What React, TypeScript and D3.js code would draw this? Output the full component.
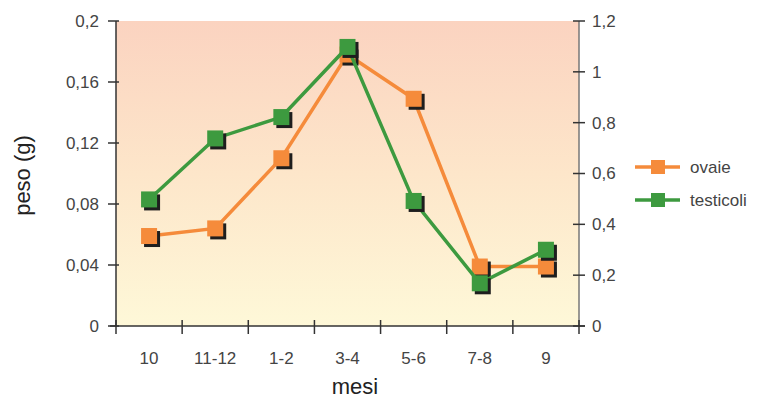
import React from "react";
import * as d3 from "d3";

const categories = ["10", "11-12", "1-2", "3-4", "5-6", "7-8", "9"];
const ovaie = [0.059, 0.064, 0.11, 0.178, 0.149, 0.039, 0.039];
const testicoli = [0.083, 0.123, 0.137, 0.183, 0.082, 0.028, 0.05];
const leftTicks = [0, 0.04, 0.08, 0.12, 0.16, 0.2];
const rightTicks = [0, 0.2, 0.4, 0.6, 0.8, 1, 1.2];
const seriesNames = ["ovaie", "testicoli"];
const seriesColors = ["#F58B3B", "#3D9A3F"];

const W = 760;
const H = 401;
const m = { left: 116, right: 579, top: 21, bottom: 326 };
const fmt = (v: number) => String(v).replace(".", ",");
const FONT = "'Liberation Sans', Arial, Helvetica, sans-serif";

export default function App() {
  const x = d3.scaleBand<string>().domain(categories).range([m.left, m.right]);
  const y = d3.scaleLinear().domain([0, 0.2]).range([m.bottom, m.top]);
  const y2 = d3.scaleLinear().domain([0, 1.2]).range([m.bottom, m.top]);
  const line = d3
    .line<number>()
    .x((_, i) => (x(categories[i]) as number) + x.bandwidth() / 2)
    .y((d) => y(d));
  const data = [ovaie, testicoli];
  const sq = 16;
  const off = 3;
  const xTickPos = categories.map((c) => x(c) as number).concat([m.right]);

  return (
    <div style={{ position: "absolute", left: 0, top: 0 }}>
      <svg width={W} height={H} style={{ display: "block", fontFamily: FONT }}>
        <defs>
          <linearGradient id="bg" x1="0" y1="0" x2="0" y2="1">
            <stop offset="0%" stopColor="#FBD3C0" />
            <stop offset="50%" stopColor="#FDE6CA" />
            <stop offset="100%" stopColor="#FEF8D8" />
          </linearGradient>
        </defs>
        <rect x={m.left} y={m.top} width={m.right - m.left} height={m.bottom - m.top} fill="url(#bg)" />

        {/* left axis */}
        <line x1={m.left} x2={m.left} y1={m.top} y2={m.bottom} stroke="#333" strokeWidth={1.5} />
        {leftTicks.map((t) => (
          <g key={"l" + t}>
            <line x1={m.left - 8} x2={m.left + 3} y1={y(t)} y2={y(t)} stroke="#333" strokeWidth={1.5} />
            <text x={99} y={y(t)} dy="0.35em" textAnchor="end" fontSize={17} fill="#444">
              {fmt(t)}
            </text>
          </g>
        ))}
        {/* right axis */}
        <line x1={m.right} x2={m.right} y1={m.top} y2={m.bottom} stroke="#777" strokeWidth={1.5} />
        {rightTicks.map((t) => (
          <g key={"r" + t}>
            <line x1={m.right - 6} x2={m.right + 6} y1={y2(t)} y2={y2(t)} stroke="#333" strokeWidth={1.5} />
            <text x={592} y={y2(t)} dy="0.35em" textAnchor="start" fontSize={17} fill="#444">
              {fmt(t)}
            </text>
          </g>
        ))}
        {/* bottom axis */}
        <line x1={m.left - 6} x2={m.right + 6} y1={m.bottom} y2={m.bottom} stroke="#333" strokeWidth={1.5} />
        {xTickPos.map((p, i) => (
          <line key={"xt" + i} x1={p} x2={p} y1={m.bottom - 6} y2={m.bottom + 8} stroke="#333" strokeWidth={1.5} />
        ))}
        {categories.map((c) => (
          <text key={c} x={(x(c) as number) + x.bandwidth() / 2} y={358} dy="0.35em" textAnchor="middle" fontSize={17} fill="#444">
            {c}
          </text>
        ))}

        {/* titles */}
        <text x={355} y={394} textAnchor="middle" fontSize={22} fill="#222">
          mesi
        </text>
        <text transform={`translate(30,${(m.top + m.bottom) / 2 + 2}) rotate(-90)`} textAnchor="middle" fontSize={22} fill="#222">
          peso (g)
        </text>

        {/* series */}
        {data.map((vals, si) => (
          <g key={seriesNames[si]}>
            <path d={line(vals) || ""} fill="none" stroke={seriesColors[si]} strokeWidth={3.5} />
            {vals.map((v, i) => {
              const cx = (x(categories[i]) as number) + x.bandwidth() / 2;
              const cy = y(v);
              return (
                <g key={i}>
                  <rect x={cx - sq / 2 + off} y={cy - sq / 2 + off} width={sq} height={sq} fill="#1E1E1E" />
                  <rect x={cx - sq / 2} y={cy - sq / 2} width={sq} height={sq} fill={seriesColors[si]} />
                </g>
              );
            })}
          </g>
        ))}

        {/* legend */}
        {seriesNames.map((n, i) => {
          const ly = 167 + i * 33;
          return (
            <g key={"lg" + n}>
              <line x1={635} x2={680} y1={ly} y2={ly} stroke={seriesColors[i]} strokeWidth={3.5} />
              <rect x={651} y={ly - 7} width={14} height={14} fill={seriesColors[i]} />
              <text x={690} y={ly} dy="0.35em" fontSize={17} fill="#444">
                {n}
              </text>
            </g>
          );
        })}
      </svg>
    </div>
  );
}
